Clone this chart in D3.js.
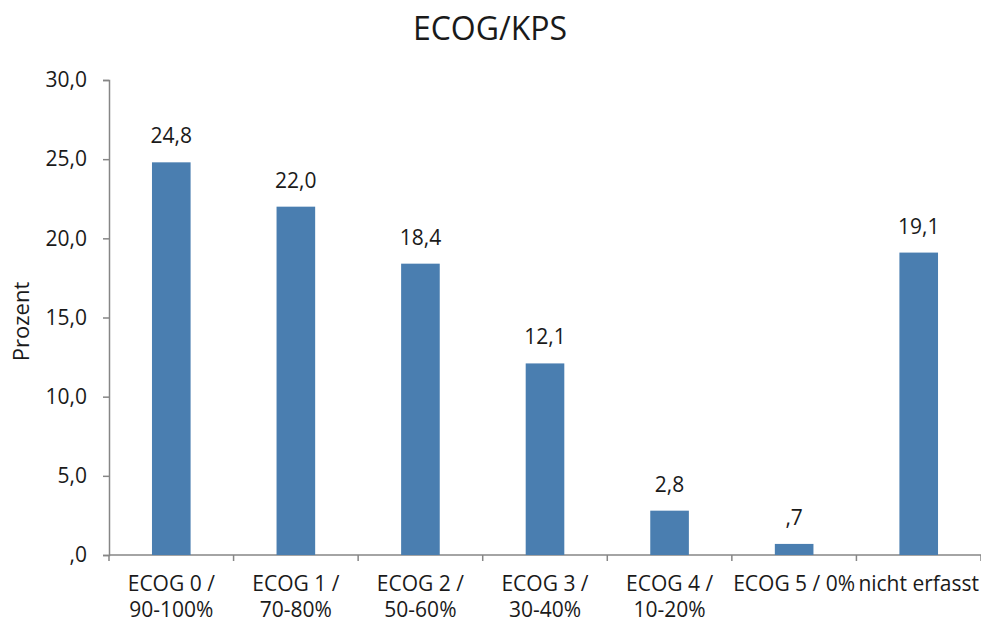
<!DOCTYPE html>
<html>
<head>
<meta charset="utf-8">
<script src="https://cdn.jsdelivr.net/npm/d3@7"></script>
<style>
  html, body { margin: 0; padding: 0; background: #fff; }
  svg text { font-family: "Open Sans", Lato, sans-serif; fill: #1a1a1a; }
</style>
</head>
<body>
<svg id="chart" width="981" height="623"></svg>
<script>
// ECOG / Karnofsky performance status distribution
const categories = [
  ["ECOG 0 /", "90-100%"],
  ["ECOG 1 /", "70-80%"],
  ["ECOG 2 /", "50-60%"],
  ["ECOG 3 /", "30-40%"],
  ["ECOG 4 /", "10-20%"],
  ["ECOG 5 / 0%"],
  ["nicht erfasst"]
];
const values = [24.8, 22.0, 18.4, 12.1, 2.8, 0.7, 19.1];
const yTicks = [0, 5, 10, 15, 20, 25, 30];

// German decimal format; leading zero dropped as in SPSS output ("0,7" -> ",7")
const fmt = v => v.toFixed(1).replace(".", ",").replace(/^0,/, ",");

const svg = d3.select("#chart");
const margin = { left: 109, right: 0, top: 80, bottom: 68 };
const W = 981, H = 623;
const labelSize = 21;

const x = d3.scaleBand()
  .domain(d3.range(categories.length))
  .range([margin.left, W - margin.right])
  .paddingInner(0).paddingOuter(0);

const y = d3.scaleLinear().domain([0, 30]).range([H - margin.bottom, margin.top]);

const axisColor = "#868686";

// Y axis
const yAxis = svg.append("g")
  .attr("transform", `translate(${margin.left},0)`)
  .call(d3.axisLeft(y).tickValues(yTicks).tickFormat(fmt).tickSizeOuter(0).tickSize(6).tickPadding(16));
yAxis.select(".domain").attr("stroke", axisColor).attr("stroke-width", 1.5);
yAxis.selectAll(".tick line").attr("stroke", axisColor).attr("stroke-width", 1.5);
yAxis.selectAll(".tick text").attr("font-size", labelSize).attr("font-family", "'Open Sans', sans-serif").attr("fill", "#1a1a1a");

// X axis baseline with ticks at band boundaries
const baseY = y(0);
svg.append("line")
  .attr("x1", margin.left).attr("x2", W - margin.right)
  .attr("y1", baseY).attr("y2", baseY)
  .attr("stroke", axisColor).attr("stroke-width", 1.5);
const bounds = d3.range(categories.length + 1).map(i => i < categories.length ? x(i) : x(i - 1) + x.bandwidth());
svg.selectAll(".xtick").data(bounds).join("line")
  .attr("class", "xtick")
  .attr("x1", d => d).attr("x2", d => d)
  .attr("y1", baseY).attr("y2", baseY + 6)
  .attr("stroke", axisColor).attr("stroke-width", 1.5);

// Bars
const barW = x.bandwidth() * 0.31;
svg.selectAll(".bar").data(values).join("rect")
  .attr("class", "bar")
  .attr("x", (d, i) => x(i) + x.bandwidth() / 2 - barW / 2)
  .attr("y", d => y(d))
  .attr("width", barW)
  .attr("height", d => y(0) - y(d))
  .attr("fill", "#4a7eb0");

// Value labels
svg.selectAll(".val").data(values).join("text")
  .attr("class", "val")
  .attr("x", (d, i) => x(i) + x.bandwidth() / 2)
  .attr("y", d => y(d) - 19)
  .attr("text-anchor", "middle")
  .attr("font-size", labelSize)
  .text(fmt);

// Category labels
const cat = svg.selectAll(".cat").data(categories).join("text")
  .attr("class", "cat")
  .attr("text-anchor", "middle")
  .attr("font-size", labelSize);
cat.each(function (lines, i) {
  d3.select(this).selectAll("tspan").data(lines).join("tspan")
    .attr("x", x(i) + x.bandwidth() / 2)
    .attr("y", (d, j) => baseY + 36 + j * 26)
    .text(d => d);
});

// Y axis title
svg.append("text")
  .attr("transform", `translate(29,${(y(0) + y(30)) / 2 + 4}) rotate(-90)`)
  .attr("text-anchor", "middle")
  .attr("font-size", 22)
  .text("Prozent");

// Chart title
svg.append("text")
  .attr("x", 490).attr("y", 40)
  .attr("text-anchor", "middle")
  .attr("font-size", 32)
  .text("ECOG/KPS");
</script>
</body>
</html>
